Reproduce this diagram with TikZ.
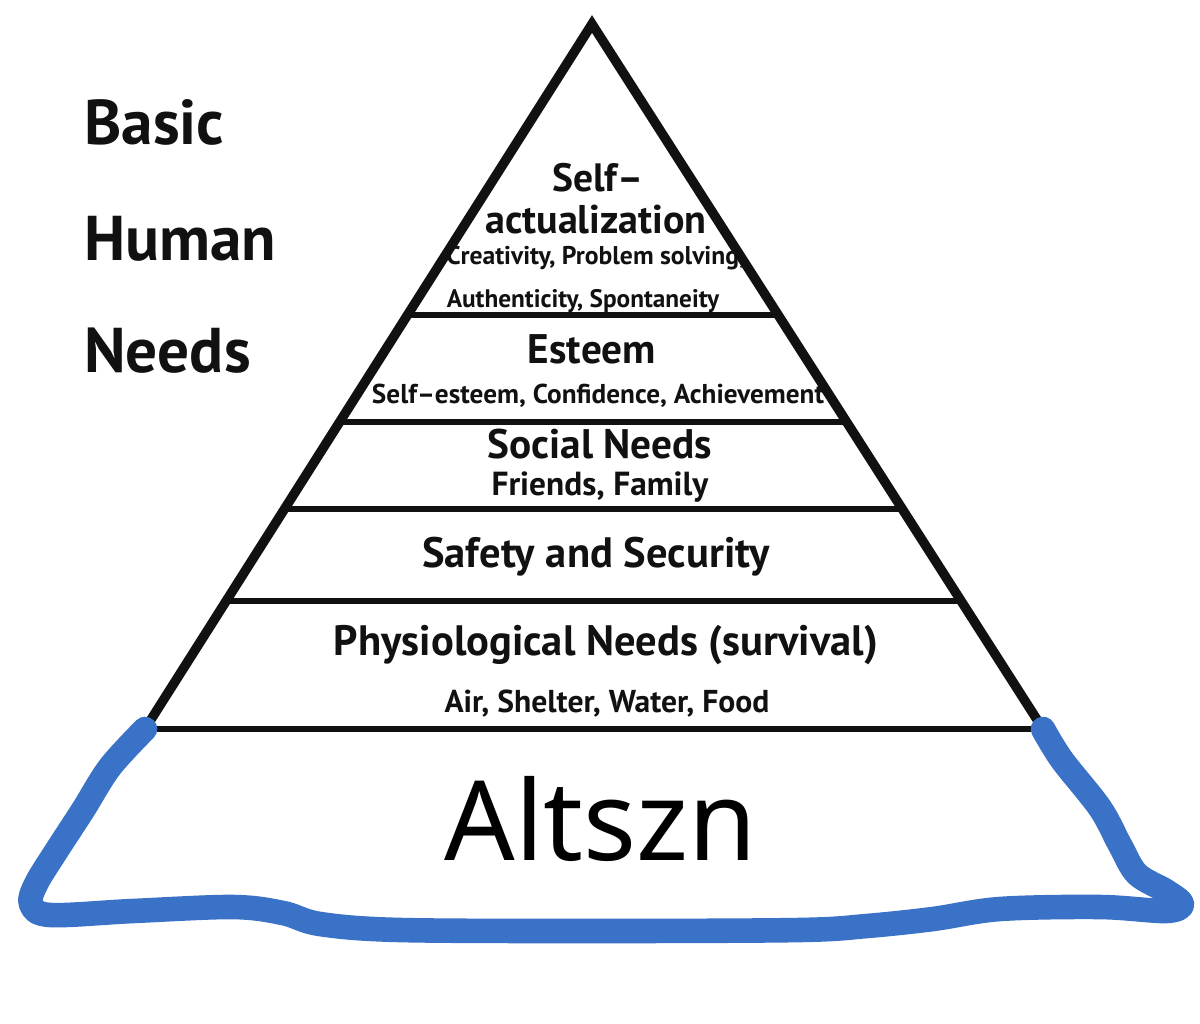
\documentclass[tikz,border=0pt]{standalone}
\usepackage{fontspec}
\setmainfont{PT Sans}
\newfontfamily\altfont{Noto Sans}
\usetikzlibrary{calc}
\definecolor{blueline}{RGB}{58,114,200}
\definecolor{ink}{RGB}{17,17,17}
\tikzset{
  side/.style={line width=5.4pt, draw=ink, line join=miter},
  tier/.style={line width=3.6pt, draw=ink},
  lbl/.style={anchor=base, inner sep=0pt, text=ink, font=\bfseries},
  leftlbl/.style={anchor=base west, inner sep=0pt, text=ink, font=\bfseries\fontsize{36}{40}\selectfont},
  shore/.style={line width=14pt, draw=blueline, line cap=round, line join=round}
}
\begin{document}
\begin{tikzpicture}[x=0.02cm,y=-0.02cm]
\useasboundingbox (0,0) rectangle (1200,1024);
\fill[white] (0,0) rectangle (1200,1024);

% pyramid
\coordinate (A) at (592,24);
\coordinate (L) at (145,729);
\coordinate (R) at (1043,729);
\foreach \t/\n in {0.4128/a,0.5645/b,0.6879/c,0.8184/d}{
  \coordinate (l\n) at ($(A)!\t!(L)$);
  \coordinate (r\n) at ($(A)!\t!(R)$);
  \draw[tier] (l\n) -- (r\n);
}
\draw[tier] (L) -- (R);
\draw[side] (L) -- (A) -- (R);

% blue outline
\draw[shore] plot[smooth, tension=0.55] coordinates {
 (L) (110,767) (83,810) (57,850) (36,884) (31,904) (50,915) (133,911) (233,907)
 (283,913) (320,924) (400,930) (600,931) (800,930) (867,926) (933,919) (1000,909)
 (1100,907) (1166,911) (1182,904) (1166,891) (1137,874) (1120,845) (1100,808)
 (1062,760) (R)};

% left labels
\node[leftlbl] (basic) at (84,145) {Basic};
\node[leftlbl] (human) at (84,260) {Human};
\node[leftlbl] (needs) at (84,372) {Needs};

% tier texts
\node[lbl, font=\bfseries\fontsize{22.5}{26}\selectfont] (sa1) at (598,191) {Self–};
\node[lbl, font=\bfseries\fontsize{22.8}{26}\selectfont] (sa2) at (596,233) {actualization};
\node[lbl, font=\bfseries\fontsize{14.6}{17}\selectfont] (sa3) at (596,264) {Creativity, Problem solving,};
\node[lbl, font=\bfseries\fontsize{14.4}{17}\selectfont] (sa4) at (583,307) {Authenticity, Spontaneity};

\node[lbl, font=\bfseries\fontsize{23.5}{27}\selectfont] (es1) at (592,363) {Esteem};
\node[lbl, font=\bfseries\fontsize{15.5}{18}\selectfont] (es2) at (598,403) {Self–esteem, Confidence, Achievement};

\node[lbl, font=\bfseries\fontsize{23.5}{27}\selectfont] (so1) at (600,458) {Social Needs};
\node[lbl, font=\bfseries\fontsize{19}{22}\selectfont] (so2) at (600,495) {Friends, Family};

\node[lbl, font=\bfseries\fontsize{24.2}{28}\selectfont] (sf1) at (596,567) {Safety and Security};

\node[lbl, font=\bfseries\fontsize{24.2}{28}\selectfont] (ph1) at (606,655) {Physiological Needs (survival)};
\node[lbl, font=\bfseries\fontsize{18}{21}\selectfont] (ph2) at (607,712) {Air, Shelter, Water, Food};

\node[anchor=base, inner sep=0pt, text=black, font=\altfont\fontsize{63}{70}\selectfont] (alt) at (601,860) {Altszn};
\end{tikzpicture}
\end{document}
